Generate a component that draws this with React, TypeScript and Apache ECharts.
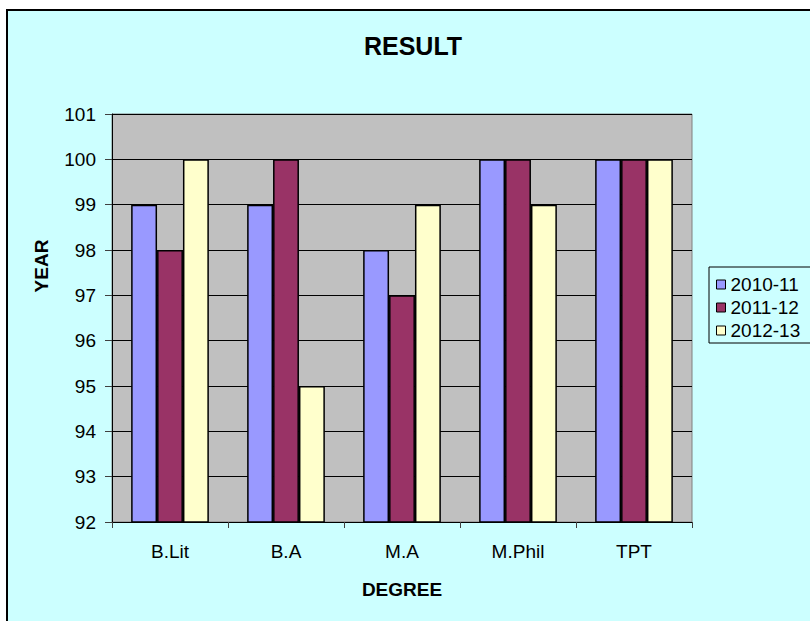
import React, { useEffect, useRef } from "react";
import * as echarts from "echarts";

const categories = ["B.Lit", "B.A", "M.A", "M.Phil", "TPT"];
const seriesNames = ["2010-11", "2011-12", "2012-13"];
const values2010 = [99, 99, 98, 100, 100];
const values2011 = [98, 100, 97, 100, 100];
const values2012 = [100, 95, 99, 99, 100];
const colors = ["#9999FF", "#993366", "#FFFFCC"];
const yMin = 92;
const yMax = 101;

const FONT = "'Liberation Sans', Arial, sans-serif";

export default function App() {
  const ref = useRef<HTMLDivElement>(null);
  useEffect(() => {
    if (!ref.current) return;
    const chart = echarts.init(ref.current, null, { renderer: "svg" });
    const data = [values2010, values2011, values2012];
    chart.setOption({
      animation: false,
      backgroundColor: "#FFFFFF",
      textStyle: { fontFamily: FONT },
      graphic: [
        {
          type: "rect",
          z: -10,
          silent: true,
          shape: { x: 7, y: 10, width: 900, height: 700 },
          style: { fill: "#CCFFFF", stroke: "#000", lineWidth: 2 },
        },
        {
          type: "text",
          x: 413,
          y: 46,
          style: {
            text: "RESULT",
            font: `bold 25px ${FONT}`,
            fill: "#000",
            align: "center",
            verticalAlign: "middle",
          },
        },
        {
          type: "text",
          x: 402,
          y: 589,
          style: {
            text: "DEGREE",
            font: `bold 19px ${FONT}`,
            fill: "#000",
            align: "center",
            verticalAlign: "middle",
          },
        },
        {
          type: "text",
          x: 41,
          y: 266,
          rotation: Math.PI / 2,
          style: {
            text: "YEAR",
            font: `bold 19px ${FONT}`,
            fill: "#000",
            align: "center",
            verticalAlign: "middle",
          },
        },
      ],
      legend: {
        orient: "vertical",
        left: 709,
        top: 267,
        padding: [8, 14, 3, 7],
        itemGap: 4,
        itemWidth: 9,
        itemHeight: 9,
        borderColor: "#000",
        borderWidth: 1,
        backgroundColor: "#CCFFFF",
        icon: "rect",
        itemStyle: { borderColor: "#000", borderWidth: 1 },
        textStyle: { fontSize: 19, color: "#000", fontFamily: FONT },
        data: seriesNames,
      },
      grid: {
        left: 112,
        top: 114,
        right: 118,
        bottom: 99,
        show: true,
        backgroundColor: "#C0C0C0",
        borderColor: "#808080",
        borderWidth: 1,
        containLabel: false,
      },
      xAxis: {
        type: "category",
        data: categories,
        axisLine: { lineStyle: { color: "#000", width: 1 } },
        axisTick: { show: true, length: 6, lineStyle: { color: "#404040" } },
        axisLabel: { fontSize: 19, color: "#000", margin: 20, fontFamily: FONT },
        splitLine: { show: false },
      },
      yAxis: {
        type: "value",
        min: yMin,
        max: yMax,
        interval: 1,
        axisLine: { show: true, lineStyle: { color: "#000", width: 1 } },
        axisTick: { show: true, length: 7, lineStyle: { color: "#404040" } },
        axisLabel: { fontSize: 19, color: "#000", margin: 16, fontFamily: FONT },
        splitLine: { show: true, lineStyle: { color: "#000", width: 1 } },
      },
      series: seriesNames.map((name, i) => ({
        name,
        type: "bar",
        data: data[i],
        barGap: "0%",
        barCategoryGap: "33%",
        clip: true,
        itemStyle: { color: colors[i], borderColor: "#000", borderWidth: 1.5 },
      })),
    });
    return () => chart.dispose();
  }, []);
  return (
    <div
      ref={ref}
      style={{ position: "absolute", left: 0, top: 0, width: 810, height: 621 }}
    />
  );
}
